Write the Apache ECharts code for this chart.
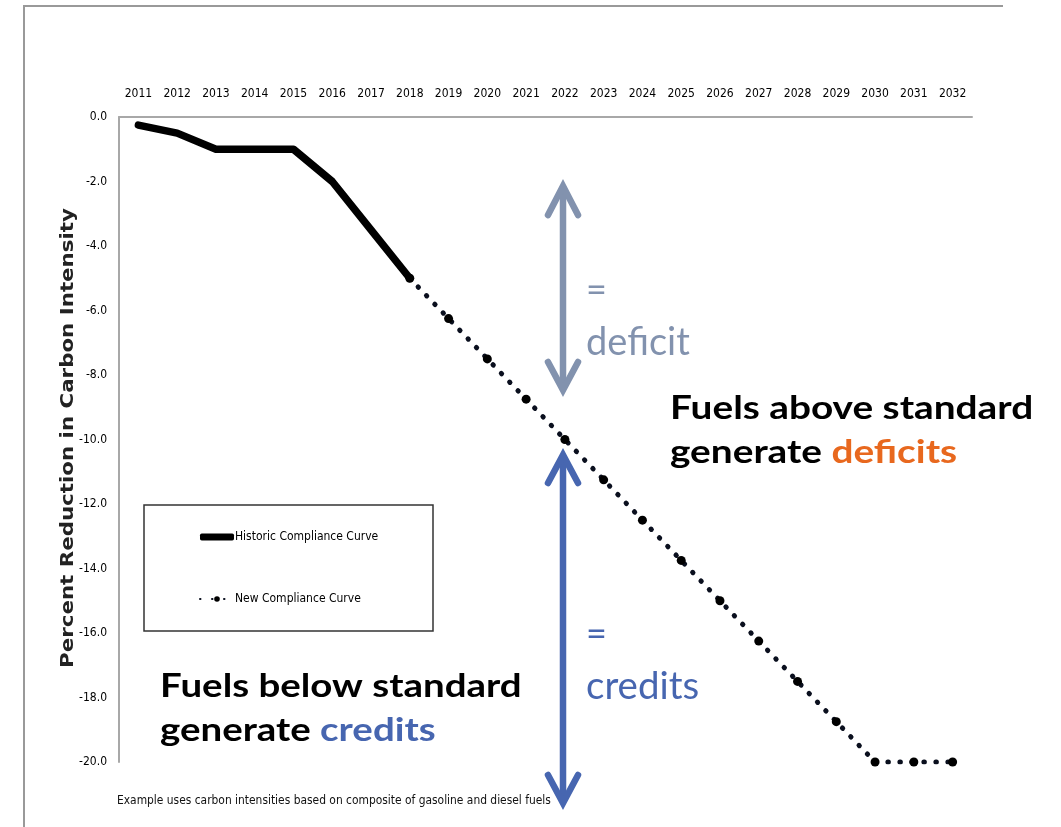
<!DOCTYPE html>
<html>
<head>
<meta charset="utf-8">
<script src="https://cdn.jsdelivr.net/npm/echarts@6/dist/echarts.min.js"></script>
<style>
html,body{margin:0;padding:0;background:#fff;}
#chart{width:1061px;height:827px;}
</style>
</head>
<body>
<div id="chart"></div>
<script>
const years = ['2011','2012','2013','2014','2015','2016','2017','2018','2019','2020','2021','2022','2023','2024','2025','2026','2027','2028','2029','2030','2031','2032'];
const historic = [-0.25,-0.5,-1.0,-1.0,-1.0,-2.0,-3.5,-5.0,null,null,null,null,null,null,null,null,null,null,null,null,null,null];
const newCurve = [null,null,null,null,null,null,null,-5.0,-6.25,-7.5,-8.75,-10.0,-11.25,-12.5,-13.75,-15.0,-16.25,-17.5,-18.75,-20.0,-20.0,-20.0];
const yTicks = {min:-20, max:0, interval:2};
const yTitle = 'Percent Reduction in Carbon Intensity';

const NARROW = "'Liberation Sans Narrow','DejaVu Sans Condensed','Arial Narrow',sans-serif";
const GRAY = '#8292AE';
const BLUE = '#4766B0';
const ORANGE = '#E8681E';
const BIG = "bold 33px 'Lato',sans-serif";

const chart = echarts.init(document.getElementById('chart'));
chart.setOption({
  backgroundColor:'#fff',
  animation:false,
  grid:{left:119, right:89, top:117, bottom:65},
  xAxis:{
    type:'category', data:years, position:'top', boundaryGap:true,
    axisLine:{show:true, lineStyle:{color:'#a8a8a8', width:2}},
    axisTick:{show:false},
    axisLabel:{color:'#000', fontSize:12, fontFamily:NARROW, margin:17, interval:0},
    splitLine:{show:false}
  },
  yAxis:{
    type:'value', min:yTicks.min, max:yTicks.max, interval:yTicks.interval,
    axisLine:{show:true, lineStyle:{color:'#a8a8a8', width:2}},
    axisTick:{show:false},
    splitLine:{show:false},
    axisLabel:{color:'#000', fontSize:12, fontFamily:NARROW, margin:12, formatter:v=>v.toFixed(1)}
  },
  legend:{
    orient:'vertical', left:199, top:531, itemGap:50, itemWidth:34, itemHeight:7, padding:0,
    textStyle:{fontFamily:NARROW, fontSize:12, color:'#000', padding:[0,0,0,-4]},
    data:[
      {name:'Historic Compliance Curve', icon:'roundRect', itemStyle:{color:'#000'}},
      {name:'New Compliance Curve'}
    ]
  },
  series:[
    {name:'Historic Compliance Curve', type:'line', data:historic, symbol:'none', connectNulls:false,
     lineStyle:{color:'#000', width:7.5, cap:'round', join:'round'}, itemStyle:{color:'#000'}, z:3},
    {name:'New Compliance Curve', type:'line', data:newCurve, symbol:'circle', symbolSize:9,
     lineStyle:{color:'#0a0f1e', width:5, type:[0.5,11.5], cap:'round'}, itemStyle:{color:'#000'}, z:4}
  ],
  graphic:[
    {type:'line', shape:{x1:23, y1:6, x2:1003, y2:6}, style:{stroke:'#999', lineWidth:2}},
    {type:'line', shape:{x1:24, y1:6, x2:24, y2:827}, style:{stroke:'#999', lineWidth:2}},
    {type:'rect', shape:{x:144, y:505, width:289, height:126}, style:{fill:'none', stroke:'#333', lineWidth:1.5}},
    // y-axis title
    {type:'text', x:68, y:438, rotation:Math.PI/2, scaleX:1.22, style:{text:yTitle, fill:'#222', font:"bold 17.5px 'DejaVu Sans',sans-serif", align:'center', verticalAlign:'middle'}},
    // gray arrow
    {type:'line', shape:{x1:563, y1:190, x2:563, y2:388}, style:{stroke:GRAY, lineWidth:6.5}},
    {type:'polyline', shape:{points:[[548,215],[563,186],[578,215]]}, style:{stroke:GRAY, lineWidth:6.5, lineCap:'round', lineJoin:'miter', fill:'none'}},
    {type:'polyline', shape:{points:[[548,362],[563,390],[578,362]]}, style:{stroke:GRAY, lineWidth:6.5, lineCap:'round', lineJoin:'miter', fill:'none'}},
    // blue arrow
    {type:'line', shape:{x1:563, y1:457, x2:563, y2:801}, style:{stroke:BLUE, lineWidth:6.5}},
    {type:'polyline', shape:{points:[[548,483],[563,455],[578,483]]}, style:{stroke:BLUE, lineWidth:6.5, lineCap:'round', lineJoin:'miter', fill:'none'}},
    {type:'polyline', shape:{points:[[548,775],[563,803],[578,775]]}, style:{stroke:BLUE, lineWidth:6.5, lineCap:'round', lineJoin:'miter', fill:'none'}},
    // annotation texts
    {type:'text', style:{x:586, y:290, text:'=', fill:GRAY, font:"36px 'Lato',sans-serif", verticalAlign:'middle'}},
    {type:'text', style:{x:586, y:343, text:'deficit', fill:GRAY, font:"38px 'Lato',sans-serif", verticalAlign:'middle'}},
    {type:'text', style:{x:586, y:634, text:'=', fill:BLUE, font:"36px 'Lato',sans-serif", verticalAlign:'middle'}},
    {type:'text', style:{x:586, y:687, text:'credits', fill:BLUE, font:"38.5px 'Lato',sans-serif", verticalAlign:'middle'}},
    {type:'text', x:670, y:386, scaleX:1.175, style:{
      text:'{b|Fuels above standard}\n{b|generate }{o|deficits}',
      rich:{b:{font:BIG, fill:'#000', lineHeight:44}, o:{font:BIG, fill:ORANGE, lineHeight:44}}
    }},
    {type:'text', x:160, y:664, scaleX:1.165, style:{
      text:'{b|Fuels below standard}\n{b|generate }{c|credits}',
      rich:{b:{font:BIG, fill:'#000', lineHeight:44}, c:{font:BIG, fill:BLUE, lineHeight:44}}
    }},
    {type:'text', style:{x:117, y:801, verticalAlign:'middle', text:'Example uses carbon intensities based on composite of gasoline and diesel fuels', fill:'#111', font:"11.9px "+NARROW}}
  ]
});
</script>
</body>
</html>
